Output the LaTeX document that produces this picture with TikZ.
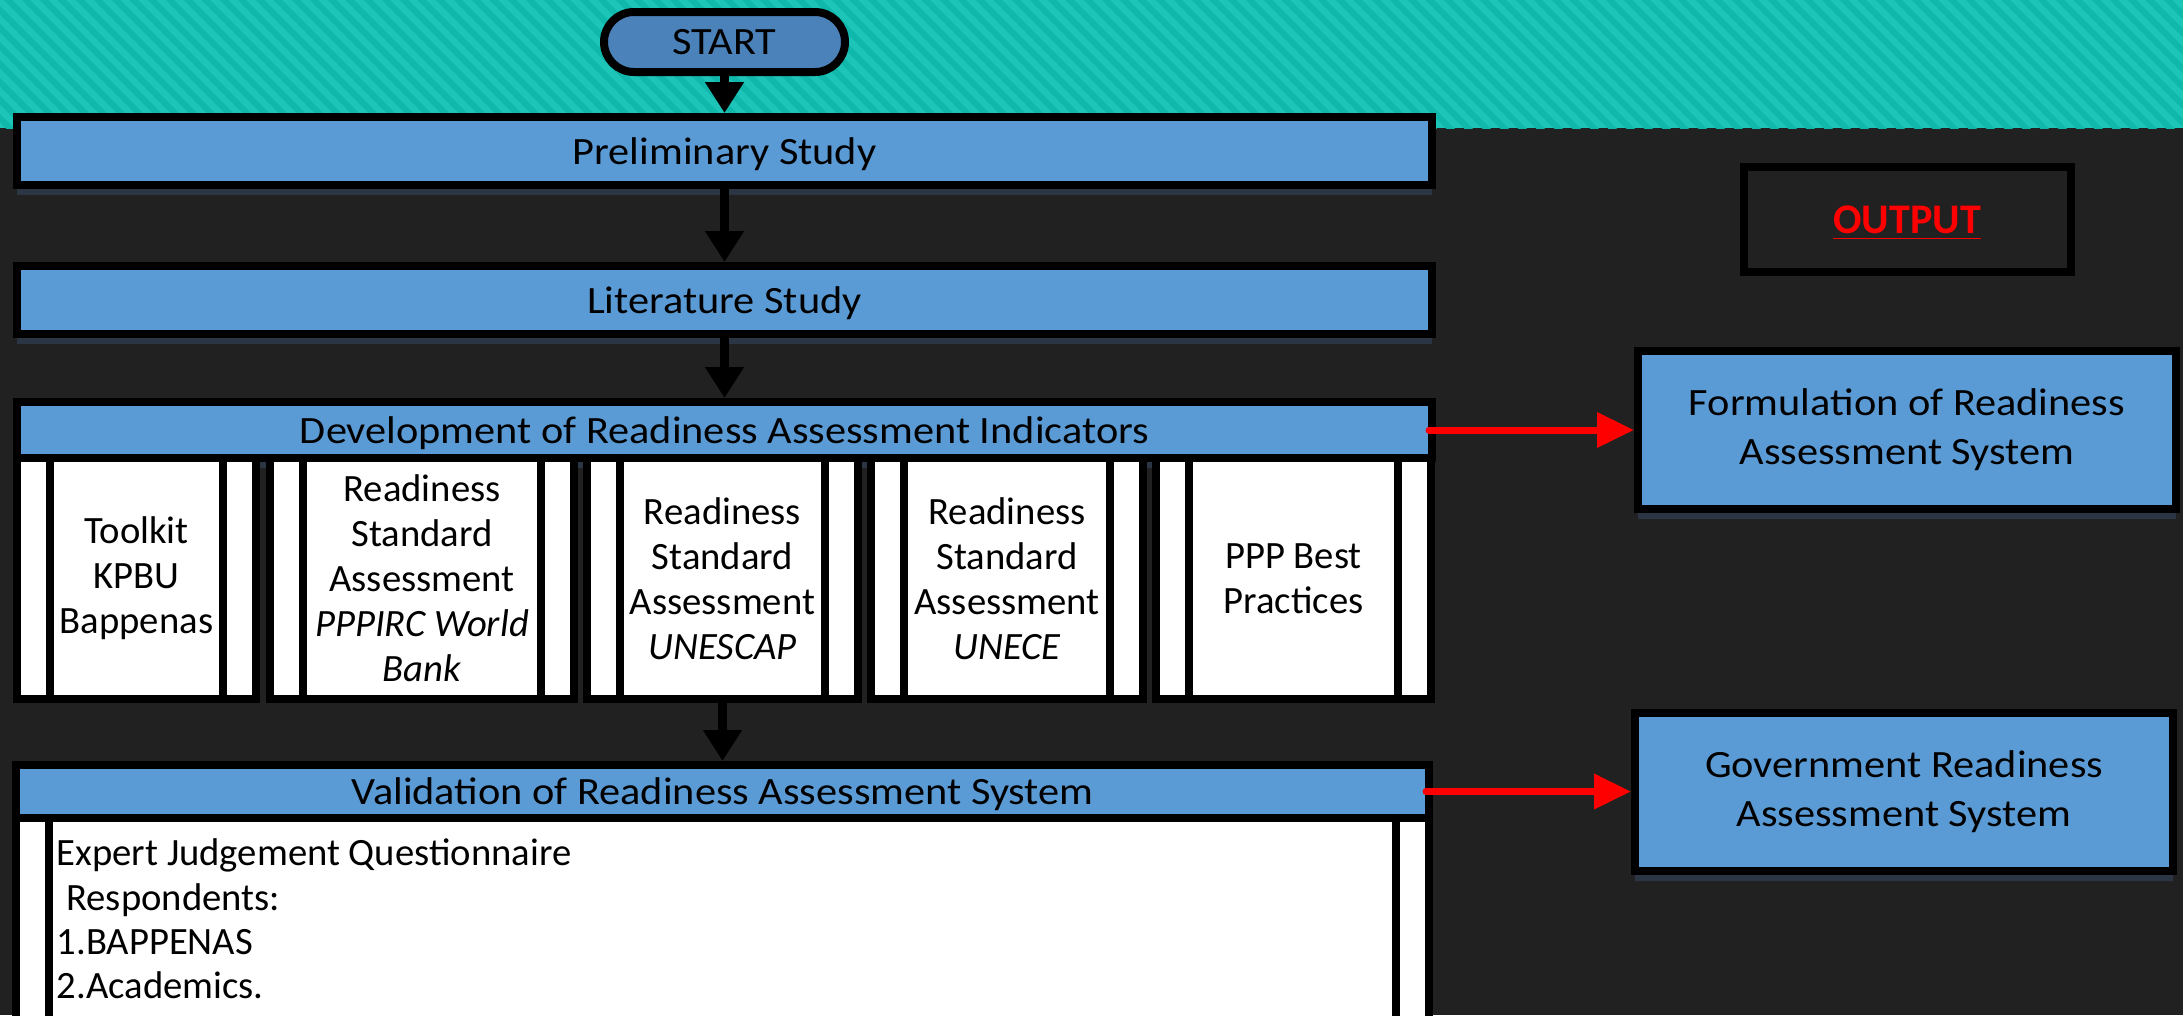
\documentclass[tikz,border=0pt]{standalone}
\usepackage{fontspec}
\setmainfont{Carlito}
\newfontfamily\widefont{Carlito}[FakeStretch=1.095]
\usepackage{tikz}
\usetikzlibrary{arrows.meta, positioning, calc, shadows}
\definecolor{BoxBlue}{HTML}{5B9BD5}
\definecolor{StartBlue}{HTML}{4B82BA}
\definecolor{DarkBack}{HTML}{212121}
\definecolor{Teal}{HTML}{1DC5B9}
\definecolor{TealStripe}{HTML}{10B7AB}
\definecolor{ShadowBlue}{HTML}{33435A}

\begin{document}
\begin{tikzpicture}[node distance=0.6cm, auto, >={Triangle[length=0.31cm,width=0.37cm]}, every node/.style={transform shape, font=\fontsize{11}{12.8}\selectfont}]
    \tikzstyle{terminal} = [rectangle, draw=black, fill=StartBlue, line width=0.08cm, rounded corners=0.3cm, minimum width=2.41cm, minimum height=0.6cm, font=\widefont\fontsize{11}{12.8}\selectfont]
    \tikzstyle{phase} = [rectangle, draw=black, fill=BoxBlue, line width=0.08cm, minimum width=14.15cm, minimum height=0.68cm, text depth=0pt, font=\widefont\fontsize{11}{12.8}\selectfont, drop shadow={shadow xshift=0cm, shadow yshift=-0.1cm, fill=ShadowBlue, opacity=0.6}]
    \tikzstyle{sourcebox} = [rectangle, draw=black, fill=white, line width=0.08cm, minimum height=2.41cm, align=center, inner sep=0pt,
        path picture={\draw[line width=0.08cm] ([xshift=0.33cm]path picture bounding box.north west) -- ([xshift=0.33cm]path picture bounding box.south west)
            ([xshift=-0.33cm]path picture bounding box.north east) -- ([xshift=-0.33cm]path picture bounding box.south east);}]
    \tikzstyle{result} = [rectangle, draw=black, fill=BoxBlue, line width=0.08cm, minimum width=5.38cm, minimum height=1.58cm, align=center, font=\widefont\fontsize{11}{14}\selectfont, drop shadow={shadow xshift=0cm, shadow yshift=-0.1cm, fill=ShadowBlue, opacity=0.6}]
    \tikzstyle{line} = [draw, ->, line width=0.09cm, black]
    \tikzstyle{outline} = [draw, -{Triangle[length=0.37cm,width=0.34cm]}, line width=0.07cm, red, line cap=round]

    \useasboundingbox (0,0) rectangle (21.83,-10.15);
    \clip (0,0) rectangle (21.83,-10.15);

    % dark page with the striped teal band on top
    \fill[DarkBack] (0,0) rectangle (21.83,-10.15);
    \fill[Teal] (0,0) rectangle (21.83,-1.28);
    \begin{scope}
        \clip (0,0) rectangle (21.83,-1.28);
        \foreach \x in {-2,-1.82,...,22}
            \draw[TealStripe, line width=0.06cm] (\x,0.1) -- ++(1.5,-1.5);
    \end{scope}

    % main flow
    \node [terminal] (start) at (7.245,-0.42) {START};
    \node [phase, below=0.37cm of start] (prelim) {Preliminary Study};
    \node [phase, below=0.73cm of prelim] (lit) {Literature Study};
    \node [phase, below=0.60cm of lit, minimum height=0.56cm, drop shadow={opacity=0}] (dev) {Development of Readiness Assessment Indicators};

    % indicator sources
    \node [sourcebox, minimum width=2.39cm, anchor=north west, yshift=0.08cm] (kpbu) at (dev.south west) {Toolkit\\KPBU\\Bappenas};
    \node [sourcebox, minimum width=3.04cm, right=0.06cm of kpbu] (pppirc) {Readiness\\Standard\\Assessment\\\textit{PPPIRC World}\\\textit{Bank}};
    \node [sourcebox, minimum width=2.71cm, right=0.05cm of pppirc] (unescap) {Readiness\\Standard\\Assessment\\\textit{UNESCAP}};
    \node [sourcebox, minimum width=2.72cm, right=0.05cm of unescap] (unece) {Readiness\\Standard\\Assessment\\\textit{UNECE}};
    \node [sourcebox, minimum width=2.75cm, right=0.05cm of unece] (bestprac) {PPP Best\\Practices};

    % validation step
    \node [phase, below=0.58cm of unescap, minimum width=14.13cm, minimum height=0.53cm] (valhead) {Validation of Readiness Assessment System};
    \node [sourcebox, minimum width=14.13cm, minimum height=2.6cm, anchor=north, yshift=0.08cm] (valbody) at (valhead.south) {};
    \node [anchor=north west, inner sep=0pt, align=left, font=\fontsize{11}{12.65}\selectfont] (respond) at ([xshift=0.44cm, yshift=-0.24cm]valbody.north west) {Expert Judgement Questionnaire\\\hspace*{0.25em}Respondents:\\1.BAPPENAS\\2.Academics.};

    % outputs
    \node [result, right=1.98cm of dev] (formul) {Formulation of Readiness\\Assessment System};
    \node [result, right=1.98cm of valhead] (govsys) {Government Readiness\\Assessment System};
    \node [rectangle, draw=black, fill=DarkBack, line width=0.08cm, minimum width=3.27cm, minimum height=1.05cm, above=0.71cm of formul, text=red, text depth=0pt, font=\bfseries\fontsize{12}{14}\selectfont] (output) {\underline{OUTPUT}};

    \path [line] (start) -- (prelim);
    \path [line] (prelim) -- (lit);
    \path [line] (lit) -- (dev);
    \path [line] (unescap) -- (valhead);
    \path [outline] ([xshift=-0.07cm]dev.east) -- (dev.east -| formul.west);
    \path [outline] ([xshift=-0.07cm]valhead.east |- govsys.west) -- (govsys.west);
\end{tikzpicture}
\end{document}
